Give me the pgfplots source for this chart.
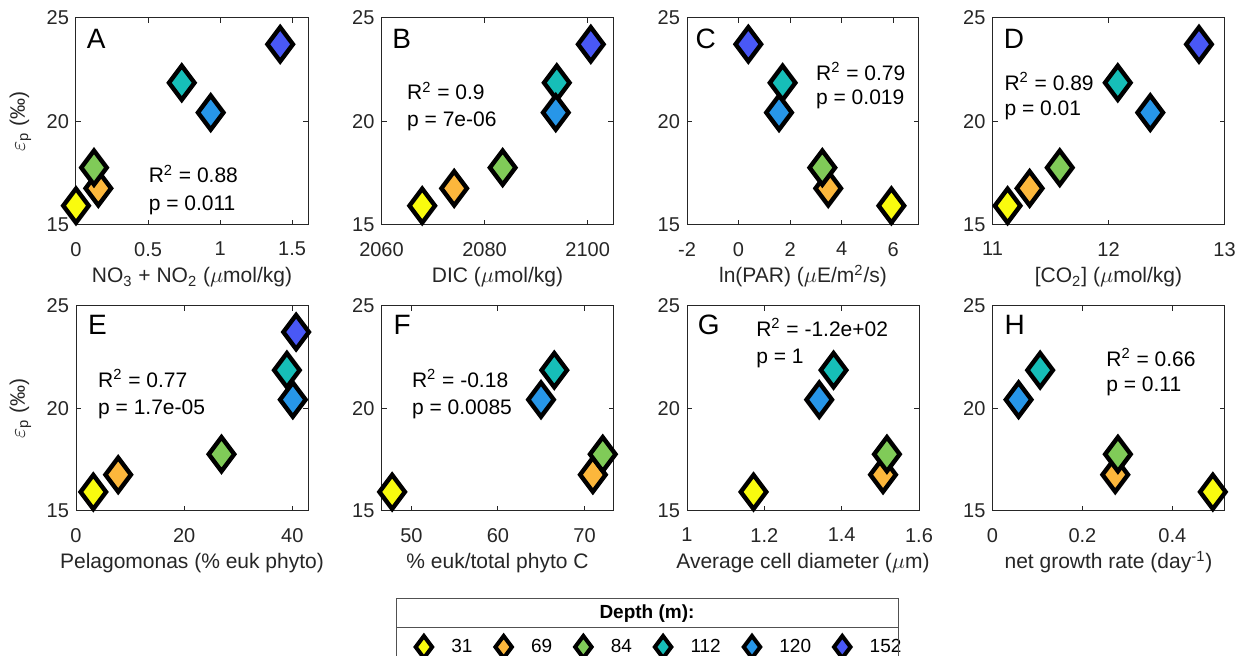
\documentclass[border=0pt]{standalone}
\usepackage{fontspec}
\setmainfont{Liberation Sans}
\usepackage{pgfplots}
\pgfplotsset{compat=1.18}
\usepackage{pgfplotstable}

\definecolor{c31}{RGB}{249,251,14}
\definecolor{c69}{RGB}{252,183,60}
\definecolor{c84}{RGB}{128,203,88}
\definecolor{c112}{RGB}{22,190,184}
\definecolor{c120}{RGB}{39,150,232}
\definecolor{c152}{RGB}{73,88,246}
\definecolor{axgray}{RGB}{38,38,38}

% rows in drawing order (69 first, then 31, ...)
\pgfplotstableread{
cls  ep    A     B      C     D     E     F     G     H
d69  16.77 0.155 2074.1 3.48  11.32 7.8   70.96 1.507 0.273
d31  15.93 0.000 2067.9 5.93  11.13 3.2   47.78 1.172 0.490
d84  17.77 0.125 2083.5 3.25  11.58 26.9  72.10 1.517 0.279
d112 21.87 0.734 2094.0 1.71  12.08 39.0  66.50 1.379 0.106
d120 20.43 0.935 2093.8 1.57  12.36 40.1  64.97 1.342 0.058
d152 23.73 1.417 2100.6 0.38  12.78 40.7  nan   nan   nan
}\epdata

\newcommand{\fs}{\fontsize{10}{12}\selectfont}
\newcommand{\fl}{\fontsize{10.5}{12.5}\selectfont}
\newcommand{\fg}{\fontsize{9.5}{11.5}\selectfont}

\tikzset{
  letter/.style={anchor=base west, inner sep=0pt, font=\fontsize{14}{16}\selectfont},
  stat/.style={anchor=base west, inner sep=0pt, font=\fl},
}

\pgfplotsset{
  panel/.style={
    scale only axis, width=116pt, height=103.5pt, anchor=south west,
    ymin=15, ymax=25, ytick={15,20,25},
    clip=false,
    tick align=inside, tick pos=both,
    axis line style={axgray, line width=0.5pt},
    major tick style={axgray, line width=0.5pt},
    major tick length=2.5pt,
    tick label style={font=\fs, text=axgray},
    xticklabel style={yshift=-5pt},
    label style={font=\fl, text=axgray},
    /pgf/number format/assume math mode=true,
    /pgf/number format/1000 sep={},
    scaled ticks=false,
    xlabel style={at={(axis description cs:0.5,0)}, anchor=base, yshift=-29pt},
    ylabel style={at={(axis description cs:-0.24,0.5)}, anchor=center},
  },
  row2/.style={height=102.5pt},
  dots/.style={scatter, only marks, forget plot, point meta=explicit symbolic,
    scatter/classes={
      d31={mark=diamond*, draw=black, fill=c31, line width=2.2pt},
      d69={mark=diamond*, draw=black, fill=c69, line width=2.2pt},
      d84={mark=diamond*, draw=black, fill=c84, line width=2.2pt},
      d112={mark=diamond*, draw=black, fill=c112, line width=2.2pt},
      d120={mark=diamond*, draw=black, fill=c120, line width=2.2pt},
      d152={mark=diamond*, draw=black, fill=c152, line width=2.2pt}},
    mark size=8.5pt},
  leg/.style={only marks, mark=diamond*, mark size=5.5pt,
    mark options={draw=black, fill=#1, line width=2pt}},
}

\begin{document}
\begin{tikzpicture}
\useasboundingbox (0pt,0pt) rectangle (618.5pt,328pt);
\clip (0pt,0pt) rectangle (618.5pt,328pt);

% ---------- A ----------
\begin{axis}[panel, at={(38pt,215.5pt)}, xmin=0, xmax=1.61, xtick={0,0.5,1,1.5},
  xlabel={NO\textsubscript{3} + NO\textsubscript{2} ($\mu$mol/kg)},
  ylabel={$\varepsilon$\textsubscript{p} (‰)}]
\addplot[dots] table[x=A, y=ep, meta=cls] {\epdata};
\node[letter] at (rel axis cs:0.045,0.855) {A};
\node[stat] at (rel axis cs:0.312,0.203) {R\textsuperscript{2} = 0.88};
\node[stat] at (rel axis cs:0.312,0.072) {p = 0.011};
\end{axis}

% ---------- B ----------
\begin{axis}[panel, at={(190.75pt,215.5pt)}, xmin=2060, xmax=2105, xtick={2060,2080,2100},
  xlabel={DIC ($\mu$mol/kg)}]
\addplot[dots] table[x=B, y=ep, meta=cls] {\epdata};
\node[letter] at (rel axis cs:0.045,0.855) {B};
\node[stat] at (rel axis cs:0.109,0.604) {R\textsuperscript{2} = 0.9};
\node[stat] at (rel axis cs:0.109,0.475) {p = 7e-06};
\end{axis}

% ---------- C ----------
\begin{axis}[panel, at={(343.5pt,215.5pt)}, xmin=-2, xmax=7, xtick={-2,0,2,4,6},
  xlabel={ln(PAR) ($\mu$E/m\textsuperscript{2}/s)}]
\addplot[dots] table[x=C, y=ep, meta=cls] {\epdata};
\node[letter] at (rel axis cs:0.035,0.855) {C};
\node[stat] at (rel axis cs:0.555,0.700) {R\textsuperscript{2} = 0.79};
\node[stat] at (rel axis cs:0.555,0.580) {p = 0.019};
\end{axis}

% ---------- D ----------
\begin{axis}[panel, at={(496.25pt,215.5pt)}, xmin=11, xmax=13, xtick={11,12,13},
  xlabel={[CO\textsubscript{2}] ($\mu$mol/kg)}]
\addplot[dots] table[x=D, y=ep, meta=cls] {\epdata};
\node[letter] at (rel axis cs:0.047,0.855) {D};
\node[stat] at (rel axis cs:0.050,0.649) {R\textsuperscript{2} = 0.89};
\node[stat] at (rel axis cs:0.050,0.531) {p = 0.01};
\end{axis}

% ---------- E ----------
\begin{axis}[panel, row2, at={(38pt,72.5pt)}, xmin=0, xmax=42.9, xtick={0,20,40},
  xlabel={Pelagomonas (\% euk phyto)},
  ylabel={$\varepsilon$\textsubscript{p} (‰)}]
\addplot[dots] table[x=E, y=ep, meta=cls] {\epdata};
\node[letter] at (rel axis cs:0.050,0.859) {E};
\node[stat] at (rel axis cs:0.094,0.603) {R\textsuperscript{2} = 0.77};
\node[stat] at (rel axis cs:0.094,0.473) {p = 1.7e-05};
\end{axis}

% ---------- F ----------
\begin{axis}[panel, row2, at={(190.75pt,72.5pt)}, xmin=46.55, xmax=73.34, xtick={50,60,70},
  xlabel={\% euk/total phyto C},
  legend columns=6,
  legend image code/.code={\draw[#1] plot coordinates {(6pt,0pt)}; \path (0pt,0pt) (12pt,0pt);},
  legend style={at={(axis description cs:0.1293,-0.6634)}, anchor=west,
    draw=none, fill=none, inner sep=0pt, outer sep=0pt, font=\fg,
    nodes={inner sep=0pt},
    /tikz/every odd column/.append style={column sep=7.5pt},
    /tikz/every even column/.append style={column sep=9.4pt}}]
\addplot[dots] table[x=F, y=ep, meta=cls] {\epdata};
\addlegendimage{leg=c31}
\addlegendimage{leg=c69}
\addlegendimage{leg=c84}
\addlegendimage{leg=c112}
\addlegendimage{leg=c120}
\addlegendimage{leg=c152}
\legend{31,69,84,112,120,152}
\node[letter] at (rel axis cs:0.050,0.859) {F};
\node[stat] at (rel axis cs:0.130,0.603) {R\textsuperscript{2} = -0.18};
\node[stat] at (rel axis cs:0.130,0.473) {p = 0.0085};
\end{axis}

% ---------- G ----------
\begin{axis}[panel, row2, at={(343.5pt,72.5pt)}, xmin=1, xmax=1.6, xtick={1,1.2,1.4,1.6},
  xlabel={Average cell diameter ($\mu$m)}]
\addplot[dots] table[x=G, y=ep, meta=cls] {\epdata};
\node[letter] at (rel axis cs:0.045,0.859) {G};
\node[stat] at (rel axis cs:0.297,0.850) {R\textsuperscript{2} = -1.2e+02};
\node[stat] at (rel axis cs:0.297,0.720) {p = 1};
\end{axis}

% ---------- H ----------
\begin{axis}[panel, row2, at={(496.25pt,72.5pt)}, xmin=0, xmax=0.516, xtick={0,0.2,0.4},
  xlabel={net growth rate (day\textsuperscript{-1})}]
\addplot[dots] table[x=H, y=ep, meta=cls] {\epdata};
\node[letter] at (rel axis cs:0.050,0.859) {H};
\node[stat] at (rel axis cs:0.489,0.707) {R\textsuperscript{2} = 0.66};
\node[stat] at (rel axis cs:0.489,0.582) {p = 0.11};
\end{axis}

% ---------- legend frame ----------
\begin{scope}[x=0.5pt, y=0.5pt]
\draw[axgray!80, line width=0.5pt] (396,-20) rectangle (898,57);
\draw[axgray!80, line width=0.5pt] (396,28) -- (898,28);
\node[font=\bfseries\fg, inner sep=0pt] at (647,42) {Depth (m):};
\end{scope}
\end{tikzpicture}
\end{document}
